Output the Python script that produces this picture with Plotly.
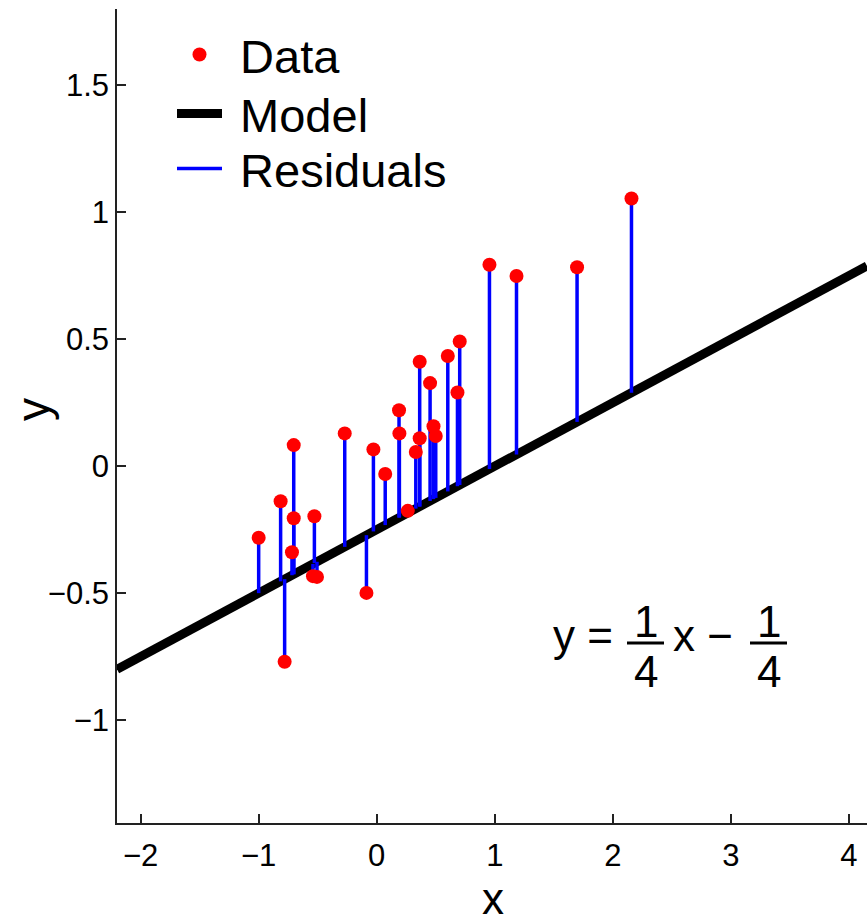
import plotly.graph_objects as go

# Data
x_data = [-1.000, -0.814, -0.703, -0.703, -0.718, -0.780, -0.528, -0.540, -0.506,
          -0.271, -0.087, -0.028, 0.072, 0.189, 0.192, 0.263, 0.331, 0.364, 0.364,
          0.452, 0.481, 0.500, 0.602, 0.684, 0.703, 0.955, 1.184, 1.697, 2.158]
y_data = [-0.282, -0.138, 0.083, -0.205, -0.339, -0.770, -0.197, -0.433, -0.436,
          0.129, -0.499, 0.066, -0.031, 0.220, 0.129, -0.176, 0.056, 0.411, 0.110,
          0.327, 0.157, 0.119, 0.434, 0.290, 0.491, 0.793, 0.749, 0.783, 1.054]

slope = 0.25
intercept = -0.25
x_range = [-2.2, 4.153]
y_range = [-1.405, 1.8]
x_ticks = [-2, -1, 0, 1, 2, 3, 4]
y_ticks = [-1, -0.5, 0, 0.5, 1, 1.5]
y_tick_text = ["\u22121", "\u22120.5", "0", "0.5", "1", "1.5"]
x_tick_text = ["\u22122", "\u22121", "0", "1", "2", "3", "4"]
legend_names = ["Data", "Model", "Residuals"]

FONT = "Liberation Sans, Arial, Helvetica, sans-serif"
W, H = 867, 916
ML, MR, MT, MB = 117, 0, 9, 93


def model(v):
    return slope * v + intercept


model_x = x_range
model_y = [model(v) for v in model_x]

res_x, res_y = [], []
for xv, yv in zip(x_data, y_data):
    res_x += [xv, xv, None]
    res_y += [yv, model(xv), None]

pad = "\u00a0"
fig = go.Figure()
fig.add_trace(go.Scatter(x=model_x, y=model_y, mode="lines", name=pad + legend_names[1],
                         line=dict(color="black", width=9), legend="legend2"))
fig.add_trace(go.Scatter(x=res_x, y=res_y, mode="lines", name=pad + legend_names[2],
                         line=dict(color="#0000ff", width=3.5), legend="legend3"))
fig.add_trace(go.Scatter(x=x_data, y=y_data, mode="markers", name=pad + legend_names[0],
                         marker=dict(color="#ff0000", size=14, line=dict(width=0)),
                         legend="legend"))


def px(pxx, pxy):
    return (pxx - ML) / (W - ML - MR), (H - MB - pxy) / (H - MT - MB)


annos = []
eq_font = dict(family=FONT, size=44, color="black")
for txt, cx, cy in [("y = ", 589, 635), ("1", 646, 621), ("4", 646, 671),
                    ("x \u2212 ", 709, 635), ("1", 769, 621), ("4", 769, 671)]:
    ax_, ay_ = px(cx, cy)
    annos.append(dict(text=txt, x=ax_, y=ay_, xref="paper", yref="paper",
                      xanchor="center", yanchor="middle", showarrow=False, font=eq_font))

# axis titles
tx, ty = px(493, 898)
annos.append(dict(text="x", x=tx, y=ty, xref="paper", yref="paper", xanchor="center",
                  yanchor="middle", showarrow=False, font=dict(family=FONT, size=44)))
tx, ty = px(33, 410)
annos.append(dict(text="y", x=tx, y=ty, xref="paper", yref="paper", xanchor="center",
                  yanchor="middle", showarrow=False, textangle=-90,
                  font=dict(family=FONT, size=46)))

shapes = []
for x0, x1 in [(627, 664), (750, 787)]:
    a0, b0 = px(x0, 643)
    a1, _ = px(x1, 643)
    shapes.append(dict(type="line", xref="paper", yref="paper", x0=a0, x1=a1, y0=b0, y1=b0,
                       line=dict(color="black", width=3)))


def leg(row_y):
    lx, ly = px(172, row_y)
    return dict(x=lx, y=ly, xanchor="left", yanchor="middle", bgcolor="rgba(0,0,0,0)",
                font=dict(family=FONT, size=47, color="black"), itemwidth=45)


fig.update_layout(
    width=W, height=H,
    margin=dict(l=ML, r=MR, t=MT, b=MB, autoexpand=False),
    paper_bgcolor="white", plot_bgcolor="white",
    font=dict(family=FONT, color="black"),
    showlegend=True,
    legend=leg(55), legend2=leg(114), legend3=leg(169),
    annotations=annos,
    shapes=shapes,
    xaxis=dict(range=x_range, tickvals=x_ticks, ticktext=x_tick_text, ticks="inside",
               ticklen=9, tickwidth=1.5, tickcolor="#222", showline=True, linecolor="#222",
               linewidth=1.5, showgrid=False, zeroline=False, mirror=False, automargin=False,
               tickfont=dict(family=FONT, size=31), ticklabelstandoff=4),
    yaxis=dict(range=y_range, tickvals=y_ticks, ticktext=y_tick_text, ticks="inside",
               ticklen=9, tickwidth=1.5, tickcolor="#222", showline=True, linecolor="#222",
               linewidth=1.5, showgrid=False, zeroline=False, mirror=False, automargin=False,
               tickfont=dict(family=FONT, size=31), ticklabelstandoff=0),
)

fig.write_html("out.html", config={"displayModeBar": False},
               post_script="document.body.style.margin='0';"
                           "document.body.style.overflow='hidden';")
